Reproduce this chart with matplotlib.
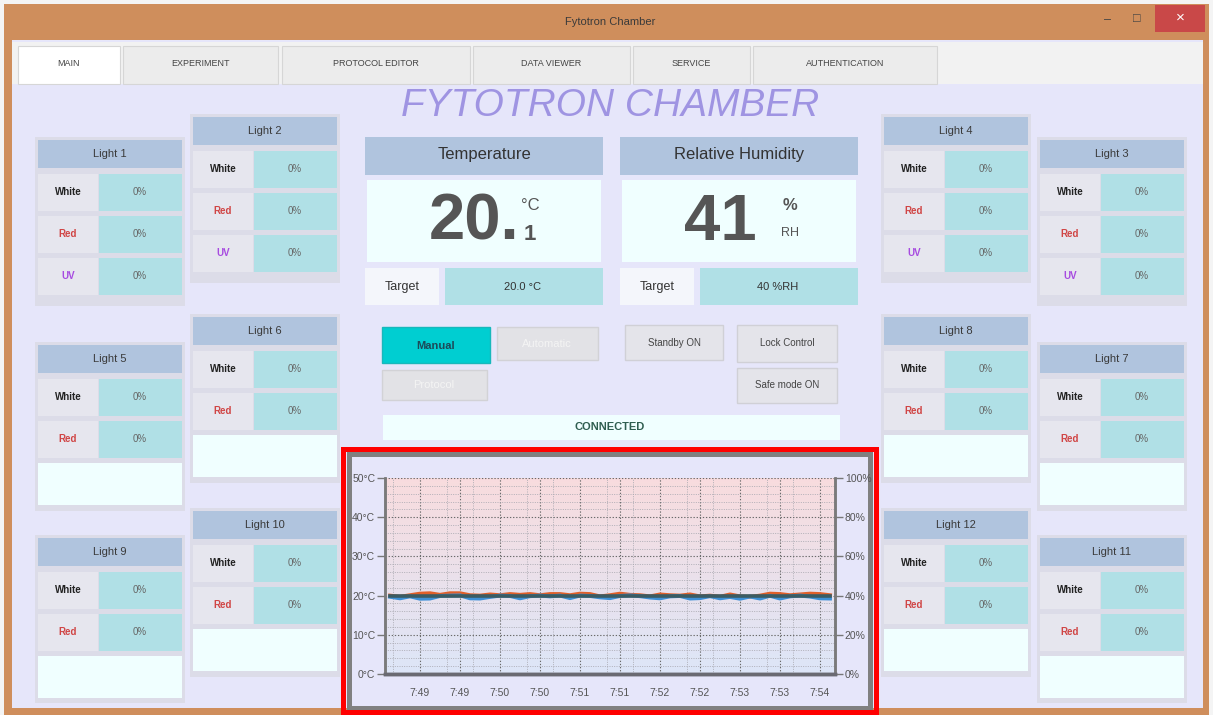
import numpy as np
import matplotlib
matplotlib.use("Agg")
import matplotlib.pyplot as plt
from matplotlib.patches import Rectangle

plt.rcParams['font.family'] = ['Liberation Sans', 'DejaVu Sans']

# ---------------- data ----------------
# time in minutes after 7:00
time_min = [48.625, 48.75, 48.875, 49.0, 49.125, 49.25, 49.375, 49.5, 49.625, 49.75,
            49.875, 50.0, 50.125, 50.25, 50.375, 50.5, 50.625, 50.75, 50.875, 51.0,
            51.125, 51.25, 51.375, 51.5, 51.625, 51.75, 51.875, 52.0, 52.125, 52.25,
            52.375, 52.5, 52.625, 52.75, 52.875, 53.0, 53.125, 53.25, 53.375, 53.5,
            53.625, 53.75, 53.875, 54.0, 54.125]
temperature_c = [20.0, 19.7, 20.1, 20.5, 20.6, 20.2, 20.6, 20.6, 20.1, 20.0,
                 20.3, 20.1, 20.4, 20.2, 20.4, 20.1, 20.4, 20.4, 20.1, 20.5,
                 20.4, 19.8, 20.1, 20.5, 20.2, 20.1, 19.8, 20.3, 20.1, 20.0,
                 20.3, 19.8, 20.0, 19.7, 20.3, 19.8, 19.7, 20.0, 20.5, 20.4,
                 20.1, 20.3, 20.5, 20.4, 20.1]
humidity_pct = [39.4, 38.6, 39.6, 38.4, 38.5, 39.8, 40.0, 40.1, 38.6, 38.5,
                39.3, 40.0, 39.8, 38.6, 39.7, 40.0, 39.6, 40.0, 38.7, 40.0,
                39.8, 39.1, 38.7, 39.8, 40.1, 39.7, 39.0, 38.6, 39.6, 39.8,
                38.5, 38.7, 39.7, 38.6, 39.3, 38.4, 39.5, 38.5, 39.9, 38.5,
                39.6, 40.0, 39.5, 38.6, 38.5]
setpoint_c = 20.0
tick_times = [49.0, 49.5, 50.0, 50.5, 51.0, 51.5, 52.0, 52.5, 53.0, 53.5, 54.0]
tick_labels = ['7:49', '7:49', '7:50', '7:50', '7:51', '7:51', '7:52', '7:52', '7:53', '7:53', '7:54']
temp_ticks = [0, 10, 20, 30, 40, 50]
hum_ticks = [0, 20, 40, 60, 80, 100]

tabs = ['MAIN', 'EXPERIMENT', 'PROTOCOL EDITOR', 'DATA VIEWER', 'SERVICE', 'AUTHENTICATION']
light_names = ['Light 1', 'Light 2', 'Light 3', 'Light 4', 'Light 5', 'Light 6',
               'Light 7', 'Light 8', 'Light 9', 'Light 10', 'Light 11', 'Light 12']
light_rows = [3, 3, 3, 3, 2, 2, 2, 2, 2, 2, 2, 2]
row_labels = ['White', 'Red', 'UV']
row_colors = ['#222222', '#d04545', '#a74be0']
light_value = '0%'
temp_now = '20.'
temp_dec = '1'
hum_now = '41'
temp_target = '20.0 °C'
hum_target = '40 %RH'

# ---------------- figure ----------------
W, H = 1213, 715
fig = plt.figure(figsize=(W / 100, H / 100), dpi=100)
bg = fig.add_axes([0, 0, 1, 1])
bg.set_xlim(0, W)
bg.set_ylim(H, 0)
bg.axis('off')


def rect(x0, y0, x1, y1, fc, ec='none', lw=0, z=1, ax=None):
    (ax or bg).add_patch(Rectangle((x0, y0), x1 - x0, y1 - y0, facecolor=fc,
                                   edgecolor=ec, linewidth=lw, zorder=z))


def txt(x, y, s, size=8, color='#333333', weight='normal', style='normal', ha='center', z=5):
    bg.text(x, y, s, fontsize=size, color=color, weight=weight, style=style,
            ha=ha, va='center', zorder=z)


FRAME = '#cf8e5c'
LAV = '#e6e6fa'
rect(0, 0, W, H, '#f4f4f4', z=0)
rect(4, 4, 1209, 715, FRAME, z=0.5)
rect(12, 40, 1203, 708, LAV, z=0.6)
txt(610, 22, 'Fytotron Chamber', 8, '#3a3a3a')
txt(1108, 20, '–', 9, '#444444')
txt(1137, 19, '□', 9, '#444444')
rect(1155, 5, 1205, 32, '#c94848', z=1)
txt(1180, 18, '×', 11, 'white')

# tab strip
rect(12, 42, 1203, 84, '#f2f2f2', z=1)
tab_x = [(18, 120), (123, 278), (282, 470), (473, 630), (633, 750), (753, 937)]
for (a, b), name in zip(tab_x, tabs):
    rect(a, 46, b, 84, 'white' if name == 'MAIN' else '#ececec', ec='#d6d6d6', lw=0.8, z=2)
    txt((a + b) / 2, 63, name, 6.5, '#444444')

txt(610, 106, 'FYTOTRON CHAMBER', 28, '#9f94e2', style='italic')

# light panels
PW = 144
panel_pos = {'Light 1': (38, 140), 'Light 2': (193, 117), 'Light 5': (38, 345),
             'Light 6': (193, 317), 'Light 9': (38, 538), 'Light 10': (193, 511),
             'Light 4': (884, 117), 'Light 3': (1040, 140), 'Light 8': (884, 317),
             'Light 7': (1040, 345), 'Light 12': (884, 511), 'Light 11': (1040, 538)}
for name, nrows in zip(light_names, light_rows):
    x0, yh = panel_pos[name]
    bottom = min(yh + 166, 703)
    rect(x0 - 3, yh - 3, x0 + PW + 3, bottom, '#dcdce8', z=1)
    rect(x0, yh, x0 + PW, yh + 28, '#b0c4de', z=2)
    txt(x0 + PW / 2, yh + 14, name, 8, '#3a3a3a')
    for k in range(3):
        r0 = yh + 34 + 42 * k
        if k < nrows:
            rect(x0, r0, x0 + 60, r0 + 37, '#e6e6ee', z=2)
            rect(x0 + 61, r0, x0 + PW, r0 + 37, '#b0e0e6', z=2)
            txt(x0 + 30, r0 + 18, row_labels[k], 7, row_colors[k], weight='bold')
            txt(x0 + 102, r0 + 18, light_value, 7, '#666666')
        else:
            rect(x0, r0, x0 + PW, min(r0 + 42, 700), '#f0ffff', z=2)

# temperature / humidity panels
for (x0, x1, title) in [(365, 603, 'Temperature'), (620, 858, 'Relative Humidity')]:
    rect(x0, 137, x1, 175, '#b0c4de', z=2)
    txt((x0 + x1) / 2, 155, title, 12, '#333333')
    rect(x0 + 2, 180, x1 - 2, 262, '#f0ffff', z=2)
    rect(x0, 268, x0 + 74, 305, '#f4f6fb', z=2)
    txt(x0 + 37, 287, 'Target', 9, '#333333')
    rect(x0 + 80, 268, x1, 305, '#b0e0e6', z=2)
txt(523, 287, temp_target, 8, '#333333')
txt(778, 287, hum_target, 8, '#333333')
txt(474, 223, temp_now, 47, '#555555', weight='bold')
txt(530, 205, '°C', 12, '#555555')
txt(530, 234, temp_dec, 16, '#555555', weight='bold')
txt(720, 223, hum_now, 47, '#555555', weight='bold')
txt(790, 205, '%', 12, '#555555', weight='bold')
txt(790, 233, 'RH', 9, '#555555')

# buttons
rect(382, 327, 490, 363, '#00ced1', ec='#18b8bb', lw=1, z=2)
txt(436, 346, 'Manual', 8, '#1c4a58', weight='bold')
rect(497, 327, 598, 360, '#e2e2e6', ec='#d2d2d6', lw=1, z=2)
txt(547, 344, 'Automatic', 8, '#f4f4f4')
rect(382, 370, 487, 400, '#e2e2e6', ec='#d2d2d6', lw=1, z=2)
txt(434, 385, 'Protocol', 8, '#f4f4f4')
for (x0, y0, x1, y1, label) in [(625, 325, 723, 360, 'Standby ON'),
                                (737, 325, 837, 362, 'Lock Control'),
                                (737, 368, 837, 403, 'Safe mode ON')]:
    rect(x0, y0, x1, y1, '#e4e4ea', ec='#d0d0d6', lw=1, z=2)
    txt((x0 + x1) / 2, (y0 + y1) / 2, label, 7, '#444444')
rect(383, 415, 840, 440, '#f0ffff', z=2)
txt(610, 427, 'CONNECTED', 8, '#2f5e50', weight='bold')

# chart control background
rect(347, 452, 873, 710, '#808080', z=2)
rect(352, 457, 868, 706, LAV, z=3)

# ---------------- chart ----------------
L, R, T, B = 385, 835, 478, 674
ax = fig.add_axes([L / W, 1 - B / H, (R - L) / W, (B - T) / H])
ax.set_zorder(5)
xmin, xmax = 48.5625, 54.1875
ax.set_xlim(xmin, xmax)
ax.set_ylim(0, 50)
grad = np.linspace(0, 1, 256).reshape(-1, 1)
top_c = np.array([0.975, 0.862, 0.870])
bot_c = np.array([0.867, 0.902, 0.973])
img = top_c[None, None, :] * grad[:, :, None] + bot_c[None, None, :] * (1 - grad[:, :, None])
ax.imshow(img, extent=[xmin, xmax, 0, 50], origin='lower', aspect='auto', zorder=0)

ax.set_xticks(tick_times)
ax.set_xticklabels(tick_labels)
ax.set_xticks([48 + 2 / 3 + i / 3 for i in range(17)], minor=True)
ax.set_yticks(temp_ticks)
ax.set_yticklabels([f'{v}°C' for v in temp_ticks])
ax.set_yticks(list(range(0, 51, 2)), minor=True)
ax.grid(which='major', color='#6a6a6a', linestyle=(0, (1.2, 1.6)), linewidth=0.8, zorder=1)
ax.grid(which='minor', color='#a8a8b0', linestyle=(0, (1.2, 1.6)), linewidth=0.6, zorder=1)
ax.tick_params(axis='x', which='both', length=0, labelsize=7.5, labelcolor='#555555', pad=10)
ax.tick_params(axis='y', which='major', length=6, width=1, color='#777777',
               labelsize=7.5, labelcolor='#555555', pad=1)
ax.tick_params(axis='y', which='minor', length=0)

ax.plot(time_min, temperature_c, color='#e0602a', lw=2.8, zorder=3, solid_joinstyle='round')
ax2 = ax.twinx()
ax2.set_ylim(0, 100)
ax2.set_yticks(hum_ticks)
ax2.set_yticklabels([f'{v}%' for v in hum_ticks])
ax2.tick_params(axis='y', length=6, width=1, color='#777777', labelsize=7.5,
                labelcolor='#555555', pad=1)
ax2.plot(time_min, humidity_pct, color='#3d8fd6', lw=2.8, zorder=3, solid_joinstyle='round')
ax2.plot([time_min[0], time_min[-1]], [setpoint_c * 2, setpoint_c * 2],
         color='#3b5c63', lw=2.6, zorder=4)

for a in (ax, ax2):
    a.spines['top'].set_visible(False)
    a.spines['left'].set_color('#7a7a7a')
    a.spines['right'].set_color('#7a7a7a')
    a.spines['left'].set_linewidth(1.8)
    a.spines['right'].set_linewidth(1.8)
    a.spines['bottom'].set_color('#6a6a72')
    a.spines['bottom'].set_linewidth(2.5)

# red highlight frame on top
ov = fig.add_axes([0, 0, 1, 1])
ov.set_zorder(10)
ov.set_xlim(0, W)
ov.set_ylim(H, 0)
ov.axis('off')
ov.patch.set_alpha(0)
ov.add_patch(Rectangle((342.5, 448.5), 533, 263, facecolor='none', edgecolor='#ff0000', linewidth=3.6))

fig.savefig('out.png', dpi=100)
